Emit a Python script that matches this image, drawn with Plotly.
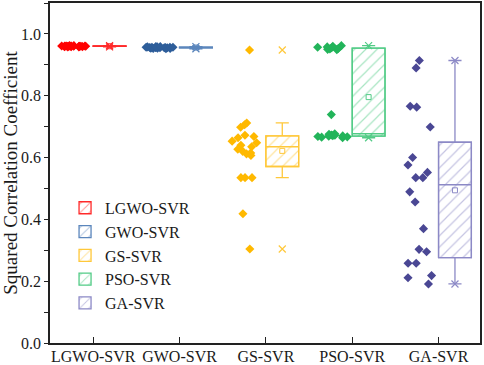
import numpy as np
import plotly.graph_objects as go

categories = ["LGWO-SVR", "GWO-SVR", "GS-SVR", "PSO-SVR", "GA-SVR"]

lgwo_r2 = [0.961, 0.960, 0.959, 0.961, 0.960, 0.962, 0.958, 0.960, 0.961, 0.959,
           0.960, 0.961, 0.960, 0.959, 0.962, 0.960, 0.961, 0.960, 0.958, 0.960]
gwo_r2 = [0.955, 0.957, 0.953, 0.958, 0.956, 0.954, 0.957, 0.955, 0.959, 0.956,
          0.953, 0.957, 0.955, 0.958, 0.954, 0.956, 0.957, 0.952, 0.959, 0.956]
gs_r2 = [0.948, 0.712, 0.706, 0.698, 0.672, 0.668, 0.664, 0.653, 0.648, 0.640,
         0.635, 0.627, 0.620, 0.615, 0.612, 0.607, 0.535, 0.535, 0.535, 0.418, 0.304]
pso_r2 = [0.664, 0.668, 0.671, 0.666, 0.673, 0.669, 0.675, 0.667, 0.672, 0.670, 0.677,
          0.739,
          0.950, 0.955, 0.958, 0.962, 0.960, 0.953, 0.957, 0.951, 0.949]
ga_r2 = [0.914, 0.890, 0.763, 0.766, 0.699, 0.600, 0.576, 0.552, 0.535, 0.535,
         0.489, 0.456, 0.370, 0.295, 0.303, 0.258, 0.258, 0.218, 0.211, 0.191]

series = [lgwo_r2, gwo_r2, gs_r2, pso_r2, ga_r2]
point_colors = ["#FF0000", "#2E5E9A", "#FFB900", "#22B45A", "#4A4794"]
box_colors = ["#FF2A2A", "#5B86BC", "#FFC83A", "#52CB86", "#8C89C6"]

BOX_OFF, BOX_W = 0.19, 0.38
PTS_OFF, PTS_W = -0.22, 0.42
FONT = "Times New Roman, Liberation Serif, serif"


def quartiles_exclusive(v):
    s = np.sort(np.asarray(v))
    n = len(s)
    h = n // 2
    return float(np.median(s[:h])), float(np.median(s)), float(np.median(s[n - h:]))


fig = go.Figure()

# hatched box fills (also used for the legend)
for i, (name, vals, bc) in enumerate(zip(categories, series, box_colors)):
    q1, med, q3 = quartiles_exclusive(vals)
    fig.add_trace(go.Bar(
        x=[i + 1 + BOX_OFF], y=[q3 - q1], base=[q1], width=BOX_W, name=name,
        marker=dict(color="white", line=dict(color=bc, width=1.3),
                    pattern=dict(shape="/", fgcolor=bc, bgcolor="white", size=8, solidity=0.15)),
        hoverinfo="skip", showlegend=True))

for i, (name, vals, pc, bc) in enumerate(zip(categories, series, point_colors, box_colors)):
    xpos = i + 1
    # box outline, median, whiskers
    fig.add_trace(go.Box(
        y=vals, x0=xpos + BOX_OFF, width=BOX_W, quartilemethod="exclusive",
        boxpoints="outliers", marker=dict(opacity=0, size=1),
        line=dict(color=bc, width=1.3), fillcolor="rgba(0,0,0,0)",
        whiskerwidth=0.4, showlegend=False, hoverinfo="skip"))
    # raw data points
    fig.add_trace(go.Box(
        y=vals, x0=xpos + PTS_OFF, width=PTS_W, boxpoints="all", jitter=1, pointpos=0,
        marker=dict(symbol="diamond", size=7, color=pc),
        line=dict(width=0, color="rgba(0,0,0,0)"), fillcolor="rgba(0,0,0,0)",
        showlegend=False, hoverinfo="skip"))
    # min / max markers
    fig.add_trace(go.Scatter(
        x=[xpos + BOX_OFF] * 2, y=[min(vals), max(vals)], mode="markers",
        marker=dict(symbol="x-thin-open", size=7, color=bc, line=dict(color=bc, width=1.2)),
        showlegend=False, hoverinfo="skip"))
    # mean marker
    fig.add_trace(go.Scatter(
        x=[xpos + BOX_OFF], y=[float(np.mean(vals))], mode="markers",
        marker=dict(symbol="square-open", size=5, color=bc, line=dict(color=bc, width=1)),
        showlegend=False, hoverinfo="skip"))

fig.update_layout(
    width=484, height=365,
    margin=dict(l=50, r=4, t=3, b=22),
    plot_bgcolor="white", paper_bgcolor="white",
    barmode="overlay", boxmode="overlay",
    font=dict(family=FONT, size=16, color="#1a1a1a"),
    hovermode=False,
    legend=dict(x=0.035, y=0.4475, xanchor="left", yanchor="top",
                bgcolor="rgba(0,0,0,0)", font=dict(family=FONT, size=16, color="#1a1a1a"),
                tracegroupgap=0, itemwidth=30, traceorder="normal"),
    xaxis=dict(range=[0.5, 5.48], tickmode="array", tickvals=[1, 2, 3, 4, 5], ticktext=categories,
               ticks="inside", ticklen=6, tickcolor="#222", automargin=False, ticklabelstandoff=-2,
               showline=True, linecolor="#222",
               linewidth=1.5, mirror=True, showgrid=False, zeroline=False),
    yaxis=dict(range=[0, 1.1], dtick=0.2, tick0=0, tickformat=".1f", ticks="outside", ticklen=4,
               tickcolor="#222", automargin=False,
               minor=dict(dtick=0.1, tick0=0, ticks="outside", ticklen=4, tickcolor="#222"),
               showline=True, linecolor="#222", linewidth=1.5, mirror=True,
               showgrid=False, zeroline=False,
               title=dict(text="Squared Correlation Coefficient", font=dict(family=FONT, size=19), standoff=12)),
)

fig.write_html("out.html", config={"displayModeBar": False},
               post_script="document.body.style.margin='0';")
